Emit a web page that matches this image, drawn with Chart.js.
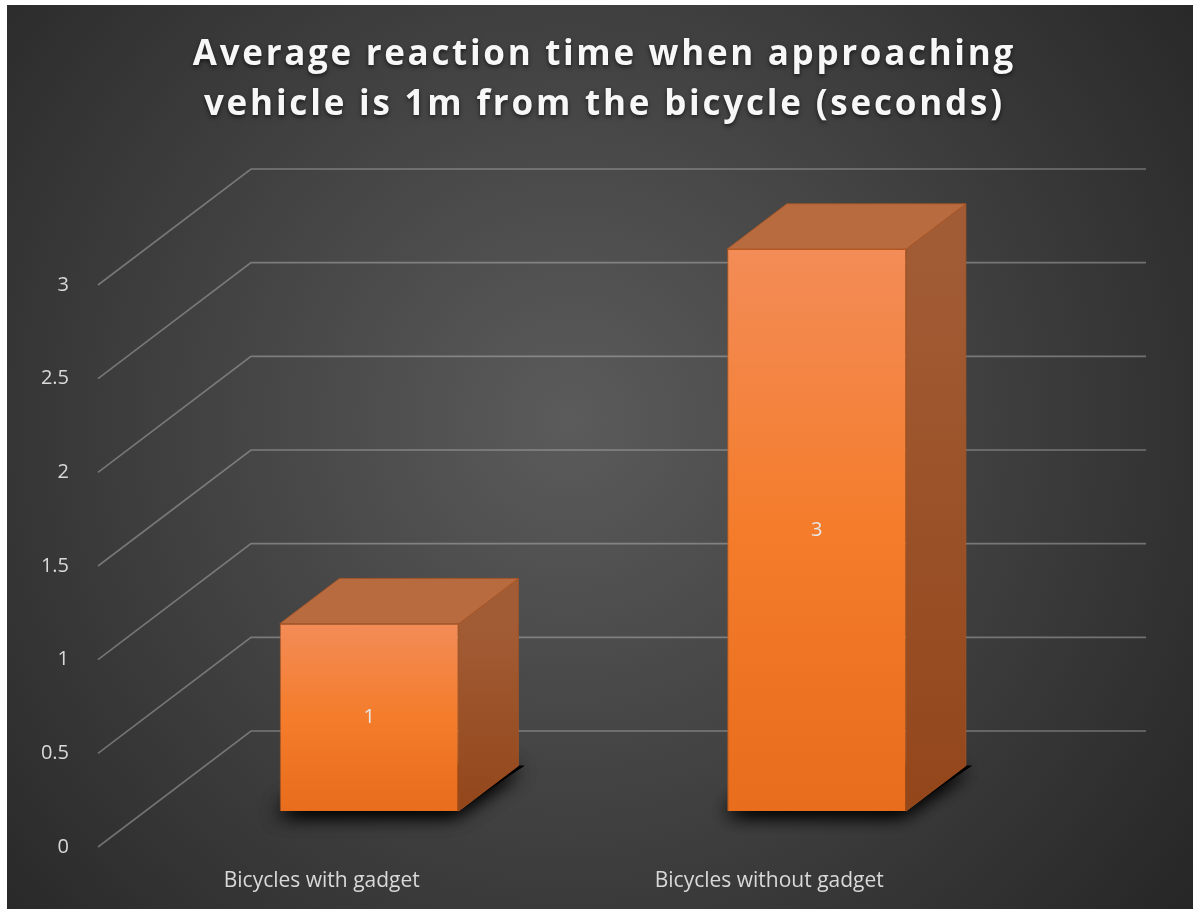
<!DOCTYPE html>
<html>
<head>
<meta charset="utf-8">
<title>Average reaction time</title>
<script src="https://cdn.jsdelivr.net/npm/chart.js@4.4.1/dist/chart.umd.min.js"></script>
<style>
  html, body { margin: 0; padding: 0; background: #fff; }
  canvas { display: block; }
</style>
</head>
<body>
<canvas id="reactionChart" width="1193" height="909"></canvas>
<script>
'use strict';

// Data
const categories = ['Bicycles with gadget', 'Bicycles without gadget'];
const reactionSeconds = [1, 3];
const yTicks = [0, 0.5, 1, 1.5, 2, 2.5, 3];
const titleLines = [
    'Average reaction time when approaching',
    'vehicle is 1m from the bicycle (seconds)'
];

// 3D look: offset from the floor front edge to the back wall
const DEPTH_X = 153;
const DEPTH_Y = -116;
const BAR_FRONT = 0.31;   // where the bar front face sits (fraction of depth)
const BAR_DEPTH = 0.39;   // how deep the bar is (fraction of depth)

const FONT = '"Open Sans", "Noto Sans", sans-serif';
const TEXT_COLOR = '#d9d9d9';

// Front face gradient, per bar
function frontGradient(c) {
    const ys = c.chart.scales.y;
    if (!ys || c.raw === undefined) {
        return '#f07a2a';
    }
    const top = ys.getPixelForValue(c.raw);
    const bottom = ys.getPixelForValue(0);
    if (!Number.isFinite(top) || !Number.isFinite(bottom) || top === bottom) {
        return '#f07a2a';
    }
    const g = c.chart.ctx.createLinearGradient(0, top, 0, bottom);
    g.addColorStop(0, '#f38c57');
    g.addColorStop(0.5, '#f47c2b');
    g.addColorStop(1, '#e86d1d');
    return g;
}

const box3d = {
    id: 'box3d',

    beforeDraw(chart) {
        const ctx = chart.ctx;
        ctx.save();
        ctx.fillStyle = '#ffffff';
        ctx.fillRect(0, 0, chart.width, chart.height);
        const g = ctx.createRadialGradient(570, 420, 0, 570, 420, 820);
        g.addColorStop(0, '#5b5b5b');
        g.addColorStop(1, '#242424');
        ctx.fillStyle = g;
        ctx.fillRect(7, 5, chart.width - 7, chart.height - 5);
        ctx.restore();
    },

    // grid lines: floor diagonal + back wall
    beforeDatasetsDraw(chart) {
        const ctx = chart.ctx;
        const area = chart.chartArea;
        const y = chart.scales.y;
        ctx.save();
        ctx.strokeStyle = 'rgba(200, 200, 200, 0.42)';
        ctx.lineWidth = 1.6;
        y.ticks.forEach(t => {
            const py = y.getPixelForValue(t.value);
            ctx.beginPath();
            ctx.moveTo(area.left, py);
            ctx.lineTo(area.left + DEPTH_X, py + DEPTH_Y);
            ctx.lineTo(area.right + DEPTH_X, py + DEPTH_Y);
            ctx.stroke();
        });
        ctx.restore();
    },

    beforeDatasetDraw(chart, args) {
        const ctx = chart.ctx;
        const dx = DEPTH_X * BAR_DEPTH;
        const dy = DEPTH_Y * BAR_DEPTH;
        ctx.save();
        ctx.translate(DEPTH_X * BAR_FRONT, DEPTH_Y * BAR_FRONT);

        args.meta.data.forEach(bar => {
            const p = bar.getProps(['x', 'y', 'base', 'width']);
            const l = p.x - p.width / 2;
            const r = p.x + p.width / 2;

            // soft shadow on the floor (the shape itself stays hidden behind the box)
            ctx.save();
            ctx.shadowColor = 'rgba(0, 0, 0, 1)';
            ctx.shadowBlur = 20;
            ctx.shadowOffsetX = -5;
            ctx.shadowOffsetY = 4;
            ctx.fillStyle = '#000';
            ctx.beginPath();
            ctx.moveTo(l + 2, p.base - 1);
            ctx.lineTo(r, p.base - 1);
            ctx.lineTo(r + dx + 6, p.base + dy);
            ctx.lineTo(l + dx, p.base + dy);
            ctx.closePath();
            ctx.fill();
            ctx.fill();
            ctx.restore();

            // right side
            const sg = ctx.createLinearGradient(0, p.y, 0, p.base);
            sg.addColorStop(0, '#a25c35');
            sg.addColorStop(1, '#93461a');
            ctx.fillStyle = sg;
            ctx.strokeStyle = 'rgba(170, 85, 35, 0.8)';
            ctx.lineWidth = 1;
            ctx.beginPath();
            ctx.moveTo(r, p.y);
            ctx.lineTo(r + dx, p.y + dy);
            ctx.lineTo(r + dx, p.base + dy);
            ctx.lineTo(r, p.base);
            ctx.closePath();
            ctx.fill();
            ctx.stroke();

            // top
            ctx.fillStyle = '#b96b40';
            ctx.beginPath();
            ctx.moveTo(l, p.y);
            ctx.lineTo(l + dx, p.y + dy);
            ctx.lineTo(r + dx, p.y + dy);
            ctx.lineTo(r, p.y);
            ctx.closePath();
            ctx.fill();
            ctx.stroke();
        });
    },

    afterDatasetDraw(chart, args) {
        const ctx = chart.ctx;
        ctx.font = '20px ' + FONT;
        ctx.fillStyle = '#e6e6e6';
        ctx.textAlign = 'center';
        ctx.textBaseline = 'middle';
        args.meta.data.forEach((bar, i) => {
            const p = bar.getProps(['x', 'y', 'base']);
            ctx.fillText(String(reactionSeconds[i]), p.x, (p.y + p.base) / 2);
        });
        ctx.restore();
    },

    afterDraw(chart) {
        const ctx = chart.ctx;
        const widths = [823, 801];
        ctx.save();
        ctx.font = 'bold 35px ' + FONT;
        ctx.fillStyle = '#f7f7f7';
        ctx.textAlign = 'center';
        ctx.textBaseline = 'alphabetic';
        ctx.shadowColor = 'rgba(0, 0, 0, 0.6)';
        ctx.shadowBlur = 4;
        ctx.shadowOffsetY = 2;
        titleLines.forEach((line, i) => {
            ctx.letterSpacing = '0px';
            const w = ctx.measureText(line).width;
            const sp = Math.max(0, (widths[i] - w) / line.length);
            ctx.letterSpacing = sp + 'px';
            ctx.fillText(line, 603 + sp / 2, 65 + i * 50);
        });
        ctx.restore();
    }
};

const ctx = document.getElementById('reactionChart').getContext('2d');

new Chart(ctx, {
    type: 'bar',
    data: {
        labels: categories,
        datasets: [{
            data: reactionSeconds,
            backgroundColor: frontGradient,
            borderColor: 'rgba(200, 90, 25, 0.8)',
            borderWidth: 1,
            barPercentage: 1,
            categoryPercentage: 0.4,
            clip: false
        }]
    },
    options: {
        responsive: false,
        animation: false,
        devicePixelRatio: 1,
        layout: {
            padding: { top: 285, right: 200, bottom: 0, left: 0 }
        },
        plugins: {
            legend: { display: false },
            tooltip: { enabled: false },
            title: { display: false }
        },
        scales: {
            x: {
                grid: { display: false },
                border: { display: false },
                ticks: {
                    color: TEXT_COLOR,
                    font: { family: FONT, size: 21 },
                    padding: 13
                },
                afterFit: function(scale) {
                    scale.height = 62;
                }
            },
            y: {
                min: 0,
                max: 3,
                grid: { display: false },
                border: { display: false },
                afterBuildTicks: function(scale) {
                    scale.ticks = yTicks.map(v => ({ value: v }));
                },
                ticks: {
                    color: TEXT_COLOR,
                    font: { family: FONT, size: 20 },
                    padding: 21,
                    callback: function(value) {
                        return String(value);
                    }
                },
                afterFit: function(scale) {
                    scale.width = 98;
                }
            }
        }
    },
    plugins: [box3d]
});
</script>
</body>
</html>
